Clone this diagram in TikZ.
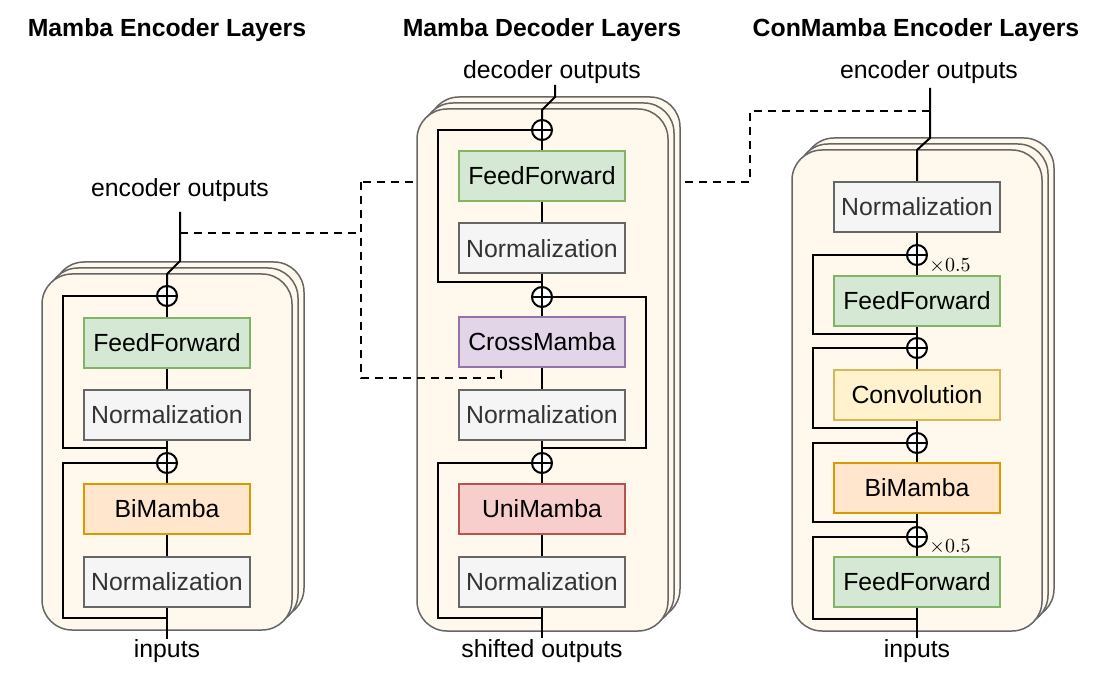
\documentclass[tikz,border=0pt]{standalone}
\usepackage{fontspec}
\setmainfont{Liberation Sans}
\usetikzlibrary{calc}

\definecolor{layerfill}{HTML}{FFF8EC}
\definecolor{layerline}{HTML}{666666}
\definecolor{ffFill}{HTML}{D5E8D4}\definecolor{ffLine}{HTML}{82B366}
\definecolor{nmFill}{HTML}{F5F5F5}\definecolor{nmLine}{HTML}{666666}\definecolor{nmText}{HTML}{333333}
\definecolor{bmFill}{HTML}{FFE6CC}\definecolor{bmLine}{HTML}{D79B00}
\definecolor{xmFill}{HTML}{E1D5E7}\definecolor{xmLine}{HTML}{9673A6}
\definecolor{umFill}{HTML}{F8CECC}\definecolor{umLine}{HTML}{B85450}
\definecolor{cvFill}{HTML}{FFF2CC}\definecolor{cvLine}{HTML}{D6B656}

\tikzset{
  blk/.style={draw, line width=1pt, minimum width=83pt, minimum height=25pt,
    inner sep=0pt, font=\fontsize{12.4}{14}\selectfont},
  ffblk/.style={blk, fill=ffFill, draw=ffLine},
  nmblk/.style={blk, fill=nmFill, draw=nmLine, text=nmText},
  bmblk/.style={blk, fill=bmFill, draw=bmLine},
  xmblk/.style={blk, fill=xmFill, draw=xmLine},
  umblk/.style={blk, fill=umFill, draw=umLine},
  cvblk/.style={blk, fill=cvFill, draw=cvLine},
  sumnode/.style={circle, draw, fill=white, line width=1pt, minimum size=10pt, inner sep=0pt,
    path picture={\draw[line width=1pt] (path picture bounding box.north) -- (path picture bounding box.south)
      (path picture bounding box.west) -- (path picture bounding box.east);}},
  lbl/.style={font=\fontsize{12.4}{14}\selectfont, inner sep=0pt},
  ttl/.style={font=\fontsize{12.4}{14}\selectfont\bfseries, inner sep=0pt},
  scl/.style={font=\fontsize{9.6}{10}\selectfont, inner sep=0pt},
  wire/.style={line width=1pt},
  xlink/.style={line width=1pt, dash pattern=on 4pt off 3pt},
  layer/.style={draw=layerline, fill=layerfill, line width=0.75pt, rounded corners=15pt}
}

% three stacked layers, front one given by its corners
\newcommand{\layerstack}[4]{%
  \draw[layer] (#1+12,#2+12) rectangle (#3+12,#4+12);
  \draw[layer] (#1+6,#2+6) rectangle (#3+6,#4+6);
  \draw[layer] (#1,#2) rectangle (#3,#4);
}

\begin{document}
\begin{tikzpicture}[x=0.5pt,y=0.5pt]
  \useasboundingbox (0,0) rectangle (1108,-684);

  % titles
  \node[ttl] (t-enc) at (167,-30) {Mamba Encoder Layers};
  \node[ttl] (t-dec) at (542,-30) {Mamba Decoder Layers};
  \node[ttl] (t-con) at (916,-30) {ConMamba Encoder Layers};

  % encoder outputs feeding the CrossMamba (partly behind the decoder)
  \coordinate (le-tap) at (180,-233);
  \coordinate (cm-tap) at (930,-111);
  \coordinate (xj-a) at (361,-233);
  \coordinate (xj-b) at (361,-182);
  \coordinate (xj-c) at (750,-182);
  \coordinate (xj-d) at (750,-111);
  \coordinate (xj-e) at (361,-378);
  \coordinate (xj-f) at (501,-378);
  \draw[xlink] (le-tap) -- (xj-a);
  \draw[xlink] (cm-tap) -- (xj-d) -- (xj-c) -- (xj-b);

  %% ---------- Mamba encoder ----------
  \layerstack{42}{-630}{292}{-274}
  \node[nmblk] (le-n1) at (167,-582) {Normalization};
  \node[bmblk] (le-bm) at (167,-509) {BiMamba};
  \node[sumnode] (le-p1) at (167,-463) {};
  \node[nmblk] (le-n2) at (167,-414.5) {Normalization};
  \node[ffblk] (le-ff) at (167,-342.5) {FeedForward};
  \node[sumnode] (le-p2) at (167,-296) {};
  \coordinate (le-in) at (167,-639);
  \coordinate (le-out) at (180,-212);
  \node[lbl] (le-inl) at (167,-651) {inputs};
  \node[lbl] (le-outl) at (180,-190) {encoder outputs};

  \draw[wire] (le-in) -- (le-n1);
  \draw[wire] (le-n1) -- (le-bm);
  \draw[wire] (le-bm) -- (le-p1);
  \draw[wire] (le-p1) -- (le-n2);
  \draw[wire] (le-n2) -- (le-ff);
  \draw[wire] (le-ff) -- (le-p2);
  \draw[wire] (le-p2) -- (167,-274) -- (180,-261) -- (le-out);
  \draw[wire] (167,-618) -- (63,-618) -- (63,-463) -- (le-p1.west);
  \draw[wire] (167,-448) -- (63,-448) -- (63,-296) -- (le-p2.west);

  %% ---------- Mamba decoder ----------
  \layerstack{417}{-631}{668}{-109}
  \node[nmblk] (md-n1) at (542,-582) {Normalization};
  \node[umblk] (md-um) at (542,-509) {UniMamba};
  \node[sumnode] (md-p1) at (542,-463) {};
  \node[nmblk] (md-n2) at (542,-415) {Normalization};
  \node[xmblk] (md-xm) at (542,-342) {CrossMamba};
  \node[sumnode] (md-p2) at (542,-297) {};
  \node[nmblk] (md-n3) at (542,-248.5) {Normalization};
  \node[ffblk] (md-ff) at (542,-176) {FeedForward};
  \node[sumnode] (md-p3) at (542,-130) {};
  \coordinate (md-in) at (542,-638);
  \coordinate (md-out) at (555,-85);
  \node[lbl] (md-inl) at (542,-651) {shifted outputs};
  \node[lbl] (md-outl) at (552,-72) {decoder outputs};

  \draw[wire] (md-in) -- (md-n1);
  \draw[wire] (md-n1) -- (md-um);
  \draw[wire] (md-um) -- (md-p1);
  \draw[wire] (md-p1) -- (md-n2);
  \draw[wire] (md-n2) -- (md-xm);
  \draw[wire] (md-xm) -- (md-p2);
  \draw[wire] (md-p2) -- (md-n3);
  \draw[wire] (md-n3) -- (md-ff);
  \draw[wire] (md-ff) -- (md-p3);
  \draw[wire] (md-p3) -- (542,-110) -- (555,-97) -- (md-out);
  \draw[wire] (542,-618) -- (438,-618) -- (438,-463) -- (md-p1.west);
  \draw[wire] (542,-448) -- (646,-448) -- (646,-297) -- (md-p2.east);
  \draw[wire] (542,-282) -- (438,-282) -- (438,-130) -- (md-p3.west);
  \draw[xlink] (xj-b) -- (xj-e) -- (xj-f) -- (md-xm.south -| xj-f);

  %% ---------- ConMamba encoder ----------
  \layerstack{792}{-631}{1042}{-150}
  \node[ffblk] (cm-ff1) at (917,-582) {FeedForward};
  \node[sumnode] (cm-p1) at (917,-537) {};
  \node[bmblk] (cm-bm) at (917,-488) {BiMamba};
  \node[sumnode] (cm-p2) at (917,-443) {};
  \node[cvblk] (cm-cv) at (917,-395) {Convolution};
  \node[sumnode] (cm-p3) at (917,-348) {};
  \node[ffblk] (cm-ff2) at (917,-301) {FeedForward};
  \node[sumnode] (cm-p4) at (917,-255) {};
  \node[nmblk] (cm-nm) at (917,-207) {Normalization};
  \coordinate (cm-in) at (917,-638);
  \coordinate (cm-out) at (930,-88);
  \node[lbl] (cm-inl) at (917,-651) {inputs};
  \node[lbl] (cm-outl) at (929,-72) {encoder outputs};
  \node[scl] (cm-s1) at (950,-547) {$\times0.5$};
  \node[scl] (cm-s2) at (950,-266) {$\times0.5$};

  \draw[wire] (cm-in) -- (cm-ff1);
  \draw[wire] (cm-ff1) -- (cm-p1);
  \draw[wire] (cm-p1) -- (cm-bm);
  \draw[wire] (cm-bm) -- (cm-p2);
  \draw[wire] (cm-p2) -- (cm-cv);
  \draw[wire] (cm-cv) -- (cm-p3);
  \draw[wire] (cm-p3) -- (cm-ff2);
  \draw[wire] (cm-ff2) -- (cm-p4);
  \draw[wire] (cm-p4) -- (cm-nm);
  \draw[wire] (cm-nm) -- (917,-150) -- (930,-138) -- (cm-out);
  \draw[wire] (917,-619) -- (813,-619) -- (813,-537) -- (cm-p1.west);
  \draw[wire] (917,-522) -- (813,-522) -- (813,-443) -- (cm-p2.west);
  \draw[wire] (917,-428) -- (813,-428) -- (813,-348) -- (cm-p3.west);
  \draw[wire] (917,-334) -- (813,-334) -- (813,-255) -- (cm-p4.west);
\end{tikzpicture}
\end{document}
